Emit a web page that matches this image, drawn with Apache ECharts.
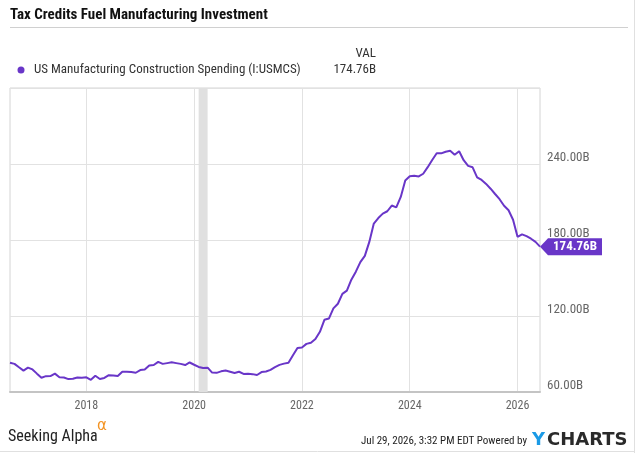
<!DOCTYPE html>
<html>
<head>
<meta charset="utf-8">
<script src="https://cdn.jsdelivr.net/npm/echarts@6/dist/echarts.min.js"></script>
<style>
  html, body { margin: 0; padding: 0; background: #fff; }
  #chart { width: 635px; height: 453px; }
</style>
</head>
<body>
<div id="chart"></div>
<script>
  // US Manufacturing Construction Spending, monthly, Jul 2016 .. May 2026 (billions)
  const startYear = 2016;
  const startMonth = 7;
  const spending = [
    83.1, 82.2, 79.5, 76.9, 79.3, 77.8, 74.5, 71.3, 72.5, 72.6,
    74.5, 71.7, 71.4, 70.2, 70.4, 71.5, 71.3, 71.6, 69.6, 72.8,
    70.3, 71.1, 73.3, 73.0, 72.6, 76.0, 76.0, 75.7, 75.2, 77.3,
    77.7, 81.0, 81.3, 83.8, 82.2, 82.8, 83.4, 82.8, 82.2, 81.3,
    83.3, 81.5, 79.8, 78.9, 79.2, 75.3, 75.1, 76.3, 77.0, 76.0,
    75.0, 76.0, 74.3, 74.5, 74.1, 73.4, 75.7, 76.2, 77.5, 79.6,
    81.4, 82.4, 83.1, 89.0, 94.8, 95.2, 98.0, 98.9, 101.8, 107.5,
    117.0, 118.0, 126.0, 129.7, 137.5, 140.0, 148.7, 155.0, 162.5, 167.5,
    178.5, 193.0, 197.3, 200.8, 202.7, 207.2, 205.8, 214.0, 227.0, 230.3,
    230.8, 230.2, 232.3, 237.5, 243.2, 248.5, 248.4, 249.7, 250.4, 247.3,
    250.1, 243.0, 238.5, 237.4, 229.5, 227.4, 224.3, 220.5, 216.3, 212.2,
    207.0, 203.5, 196.0, 182.5, 184.5, 183.0, 181.0, 178.5, 174.76
  ];
  const yearTicks = [2018, 2020, 2022, 2024, 2026];
  const recession = [2020 + 1 / 12, 2020 + 3 / 12];
  const seriesName = 'US Manufacturing Construction Spending (I:USMCS)';
  const lastLabel = '174.76B';

  const purple = '#6936c8';
  const narrow = '"Liberation Sans Narrow", "Roboto Condensed", Roboto, sans-serif';

  // end-of-month positions as fractional years
  let points = [];
  for (let i = 0; i < spending.length; i++) {
    points.push([startYear + (startMonth + i) / 12, spending[i]]);
  }
  const last = points[points.length - 1];

  let chart = echarts.init(document.getElementById('chart'));
  let option = {
    animation: false,
    grid: {
      left: 10, right: 95, top: 88, bottom: 61,
      show: true,
      borderColor: '#d4d4d4',
      borderWidth: 1
    },
    xAxis: {
      type: 'value',
      min: points[0][0],
      max: last[0],
      axisLine: { show: true, lineStyle: { color: '#c4c4c4', width: 2 } },
      axisTick: { show: false, customValues: yearTicks },
      axisLabel: {
        customValues: yearTicks,
        color: '#666',
        fontFamily: narrow,
        fontSize: 12,
        margin: 8,
        formatter: function (v) { return String(Math.round(v)); }
      },
      splitLine: { show: true, lineStyle: { color: '#e2e2e2', width: 1 } }
    },
    yAxis: {
      type: 'value',
      position: 'right',
      min: 60,
      max: 300,
      interval: 60,
      axisLine: { show: false },
      axisTick: { show: false },
      axisLabel: {
        showMaxLabel: false,
        color: '#666',
        fontFamily: narrow,
        fontSize: 13,
        margin: 7,
        verticalAlign: 'bottom',
        formatter: function (v) { return v.toFixed(2) + 'B'; }
      },
      splitLine: { show: true, lineStyle: { color: '#e2e2e2', width: 1 } }
    },
    series: [{
      name: seriesName,
      type: 'line',
      data: points,
      showSymbol: false,
      lineStyle: { color: purple, width: 2 },
      itemStyle: { color: purple },
      markArea: {
        silent: true,
        itemStyle: { color: '#e0e0e0' },
        data: [[{ xAxis: recession[0] }, { xAxis: recession[1] }]]
      },
      markPoint: {
        silent: true,
        symbol: 'path://M0,8.5 L8,0 L62,0 L62,17 L8,17 Z',
        symbolSize: [62, 17],
        symbolOffset: [31, 0],
        itemStyle: { color: purple },
        label: {
          show: true,
          color: '#fff',
          fontWeight: 'bold',
          fontFamily: narrow,
          fontSize: 13,
          offset: [4, 0],
          formatter: lastLabel
        },
        data: [{ coord: last }]
      }
    }],
    graphic: [
      {
        type: 'text', left: 10, top: 8,
        style: {
          text: 'Tax Credits Fuel Manufacturing Investment',
          font: 'bold 15px ' + narrow,
          fill: '#111'
        }
      },
      {
        type: 'line',
        shape: { x1: 10, y1: 27.5, x2: 628, y2: 27.5 },
        style: { stroke: '#d0d0d0', lineWidth: 1 }
      },
      {
        type: 'circle',
        shape: { cx: 21, cy: 70, r: 3.5 },
        style: { fill: purple }
      },
      {
        type: 'text', x: 34, y: 70,
        style: {
          text: seriesName,
          font: '13px ' + narrow,
          fill: '#333',
          verticalAlign: 'middle'
        }
      },
      {
        type: 'text', x: 376, y: 54,
        style: {
          text: 'VAL',
          font: '13px ' + narrow,
          fill: '#333',
          align: 'right',
          verticalAlign: 'middle'
        }
      },
      {
        type: 'text', x: 376, y: 70,
        style: {
          text: lastLabel,
          font: '13px ' + narrow,
          fill: '#333',
          align: 'right',
          verticalAlign: 'middle'
        }
      },
      {
        type: 'text', x: 8, y: 437,
        style: {
          text: 'Seeking Alpha',
          font: '16px ' + narrow,
          fill: '#222',
          verticalAlign: 'middle'
        }
      },
      {
        type: 'text', x: 97, y: 426,
        style: {
          text: 'α',
          font: '15px "DejaVu Sans", sans-serif',
          fill: '#f39322',
          verticalAlign: 'middle'
        }
      },
      {
        type: 'text', x: 527, y: 441,
        style: {
          text: 'Jul 29, 2026, 3:32 PM EDT Powered by',
          font: '11px ' + narrow,
          fill: '#222',
          align: 'right',
          verticalAlign: 'middle'
        }
      },
      {
        type: 'text', x: 532, y: 440,
        style: {
          text: 'Y',
          font: 'bold 18px "DejaVu Sans", sans-serif',
          fill: '#1b9ae6',
          verticalAlign: 'middle'
        }
      },
      {
        type: 'text', x: 547, y: 440,
        style: {
          text: 'CHARTS',
          font: 'bold 18px "DejaVu Sans", sans-serif',
          fill: '#2a2a2a',
          verticalAlign: 'middle'
        }
      },
      {
        type: 'line',
        shape: { x1: 634.5, y1: 0, x2: 634.5, y2: 453 },
        style: { stroke: '#e0e0e0', lineWidth: 1 }
      },
      {
        type: 'line',
        shape: { x1: 0, y1: 451.5, x2: 635, y2: 451.5 },
        style: { stroke: '#e0e0e0', lineWidth: 1 }
      }
    ]
  };
  chart.setOption(option);
</script>
</body>
</html>
